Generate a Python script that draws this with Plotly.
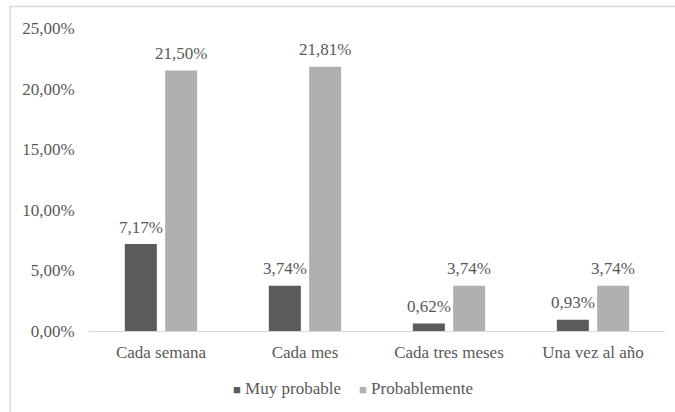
import plotly.graph_objects as go

categories = ["Cada semana", "Cada mes", "Cada tres meses", "Una vez al año"]
muy_probable = [7.17, 3.74, 0.62, 0.93]
probablemente = [21.50, 21.81, 3.74, 3.74]
series_names = ["Muy probable", "Probablemente"]
y_ticks = [0, 5, 10, 15, 20, 25]


def fmt_pct(v):
    return f"{v:.2f}%".replace(".", ",")


y_tick_text = [fmt_pct(v) for v in y_ticks]

FONT = "Liberation Serif"
TXT = "#595959"
COLORS = ["#5b5b5b", "#b0b0b0"]
SIZE = 17

fig = go.Figure()
for name, vals, col in zip(series_names, [muy_probable, probablemente], COLORS):
    fig.add_trace(go.Bar(
        x=categories, y=vals, name=name,
        marker=dict(color=col, line=dict(width=0)),
        showlegend=False, hoverinfo="x+y",
    ))

# data labels placed at each bar's value via data coordinates
annos = []
for vals, dx in zip([muy_probable, probablemente], [-20.2, 20.2]):
    for c, v in zip(categories, vals):
        annos.append(dict(x=c, y=v, xref="x", yref="y", text=fmt_pct(v),
                          showarrow=False, xshift=dx, yshift=17,
                          xanchor="center", yanchor="middle",
                          font=dict(family=FONT, size=SIZE, color=TXT)))

# legend entries
legend_x = [0.2465, 0.4655]
for name, col, lx in zip(series_names, COLORS, legend_x):
    annos.append(dict(x=lx, y=-0.19, xref="paper", yref="paper", showarrow=False,
                      xanchor="left", yanchor="middle",
                      text=f"<span style='color:{col};font-size:13px'>■</span> {name}",
                      font=dict(family=FONT, size=SIZE, color=TXT)))

fig.update_layout(
    width=675, height=412,
    margin=dict(l=89, r=10, t=28, b=81),
    paper_bgcolor="white", plot_bgcolor="white",
    barmode="group", bargap=0.44, bargroupgap=0.206,
    font=dict(family=FONT, size=SIZE, color=TXT),
    showlegend=False,
    xaxis=dict(showline=True, linecolor="#d9d9d9", linewidth=1, showgrid=False,
               ticks="outside", ticklen=6, tickcolor="rgba(0,0,0,0)", automargin=False,
               tickfont=dict(family=FONT, size=SIZE, color=TXT), fixedrange=True),
    yaxis=dict(range=[0, 25], tickmode="array", tickvals=y_ticks, ticktext=y_tick_text,
               showgrid=False, zeroline=False, showline=False, automargin=False,
               ticks="outside", ticklen=10, tickcolor="rgba(0,0,0,0)",
               tickfont=dict(family=FONT, size=SIZE, color=TXT), fixedrange=True),
    annotations=annos,
    shapes=[dict(type="rect", xref="paper", yref="paper",
                 x0=-0.137, x1=1.2, y0=-0.5, y1=1.071,
                 line=dict(color="#d9d9d9", width=1.5), fillcolor="rgba(0,0,0,0)",
                 layer="below")],
)

fig.write_html("out.html")
